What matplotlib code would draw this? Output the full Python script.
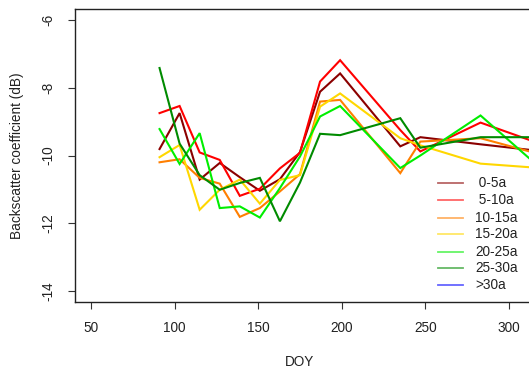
import matplotlib
matplotlib.use("Agg")
import matplotlib.pyplot as plt
from matplotlib.lines import Line2D

plt.rcParams['font.family'] = ['Liberation Sans', 'DejaVu Sans']

# Day of year of each acquisition
doy = [91, 103, 115, 127, 139, 151, 163, 175, 187, 199, 235, 247, 283, 319]

# Mean backscatter (dB) per stand-age class
age_0_5 = [-9.81, -8.75, -10.71, -10.22, -10.64, -11.04, -10.70, -9.90, -8.12, -7.58, -9.73, -9.46, -9.67, -9.87]
age_5_10 = [-8.75, -8.54, -9.91, -10.13, -11.19, -10.98, -10.38, -9.92, -7.82, -7.19, -9.25, -9.88, -9.03, -9.66]
age_10_15 = [-10.20, -10.11, -10.66, -10.83, -11.81, -11.55, -11.06, -10.55, -8.41, -8.36, -10.52, -9.59, -9.49, -9.97]
age_15_20 = [-10.05, -9.69, -11.60, -11.01, -10.71, -11.42, -10.72, -10.58, -8.56, -8.17, -9.49, -9.70, -10.24, -10.37]
age_20_25 = [-9.22, -10.25, -9.34, -11.55, -11.50, -11.83, -10.96, -10.03, -8.85, -8.54, -10.37, -10.00, -8.82, -10.38]
age_25_30 = [-7.42, -9.65, -10.58, -11.01, -10.81, -10.66, -11.94, -10.80, -9.36, -9.40, -8.90, -9.77, -9.46, -9.46]
age_gt30 = []

labels = [" 0-5a", " 5-10a", "10-15a", "15-20a", "20-25a", "25-30a", ">30a"]
colors = ["#8B0000", "#FF0000", "#FF7F00", "#FFD700", "#00EE00", "#008B00", "#0000FF"]
series = [age_0_5, age_5_10, age_10_15, age_15_20, age_20_25, age_25_30, age_gt30]

xticks = [50, 100, 150, 200, 250, 300]
yticks = [-14, -12, -10, -8, -6]

W, H = 529, 372
fig = plt.figure(figsize=(W / 100, H / 100), dpi=100)

# plot region in pixels: left 75, top 9, bottom 302, right beyond the canvas
left_px, top_px, bot_px, right_px = 75, 9, 302, 542.4
ax = fig.add_axes([left_px / W, 1 - bot_px / H, (right_px - left_px) / W, (bot_px - top_px) / H])
ax.set_xlim(40.43, 320)
ax.set_ylim(-14.32, -5.68)

for vals, col in zip(series, colors):
    if vals:
        ax.plot(doy[:len(vals)], vals, color=col, lw=1.5, solid_joinstyle='miter')

ax.set_xticks(xticks)
ax.set_yticks(yticks)
ax.set_xticklabels([str(t) for t in xticks])
ax.set_yticklabels([str(t) for t in yticks], rotation=90, va='center')
ax.tick_params(direction='out', length=5.3, width=0.8, color='#333333',
               labelsize=9.8, labelcolor='#222222', pad=8.6)
for sp in ax.spines.values():
    sp.set_color('#222222')
    sp.set_linewidth(1.0)

def fx(px):
    return px / W

def fy(py):
    return 1 - py / H

fig.text(fx(299), fy(361.7), "DOY", ha='center', va='center', fontsize=9.8, color='#222222')
fig.text(fx(17.3), fy(155.5), "Backscatter coefficient (dB)", ha='center', va='center',
         rotation=90, fontsize=9.8, color='#222222')

# legend without frame
row_y = [183.3, 200.3, 217.7, 234.3, 251.7, 268.3, 285.0]
for lab, col, ry in zip(labels, colors, row_y):
    fig.add_artist(Line2D([fx(437.7), fx(463.3)], [fy(ry), fy(ry)], color=col,
                          lw=1.3, alpha=0.6, transform=fig.transFigure))
    fig.text(fx(475), fy(ry), lab, ha='left', va='center', fontsize=9.8, color='#222222')

fig.savefig("out.png", dpi=100)
